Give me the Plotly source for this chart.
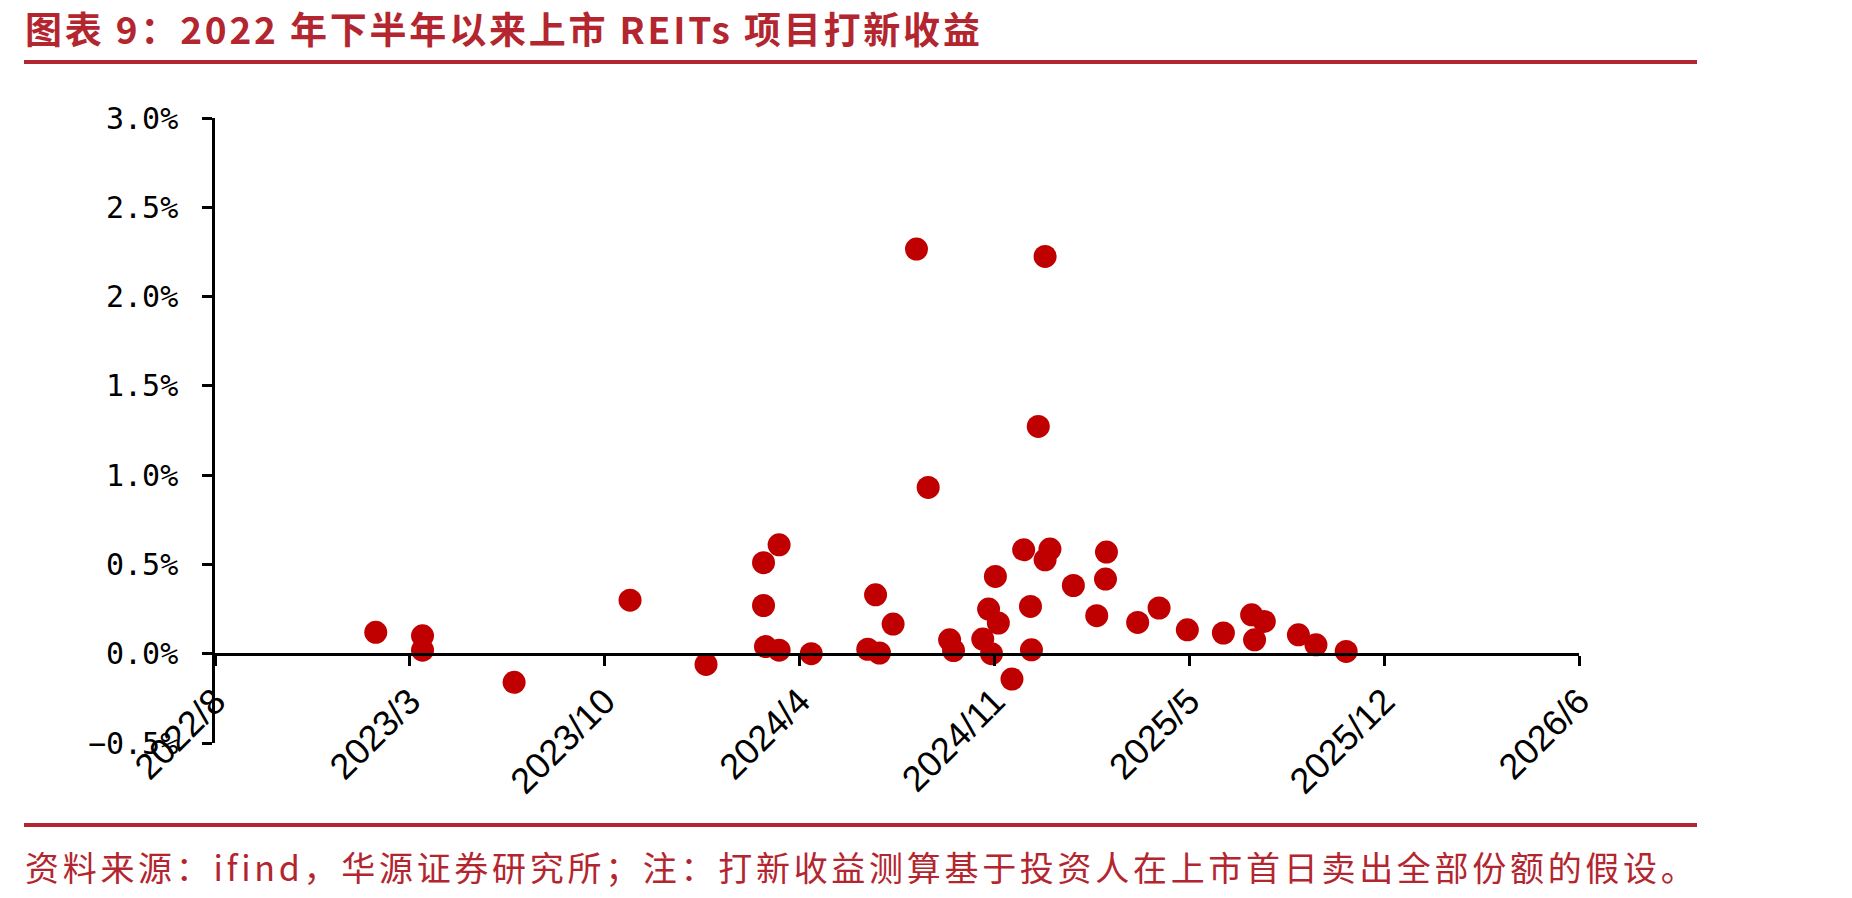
import plotly.graph_objects as go

W, H = 1852, 898

# ---- data (listing date, first-day subscription return in %) ----
list_dates = [
    "2023-02-11", "2023-03-31", "2023-03-31", "2023-07-03", "2023-10-30",
    "2024-01-16", "2024-03-15", "2024-03-31", "2024-03-15", "2024-03-17",
    "2024-03-31", "2024-05-03", "2024-06-30", "2024-07-12", "2024-07-08",
    "2024-07-26", "2024-08-19", "2024-08-31", "2024-09-22", "2024-09-26",
    "2024-10-26", "2024-11-01", "2024-11-04", "2024-11-08", "2024-11-11",
    "2024-11-25", "2024-12-07", "2024-12-14", "2024-12-15", "2024-12-22",
    "2024-12-29", "2024-12-29", "2025-01-03", "2025-01-27", "2025-02-20",
    "2025-03-02", "2025-03-01", "2025-04-03", "2025-04-25", "2025-05-24",
    "2025-06-30", "2025-07-29", "2025-08-11", "2025-08-01", "2025-09-15",
    "2025-10-03", "2025-11-03",
]
ret_pct = [
    0.12, 0.10, 0.02, -0.16, 0.30,
    -0.06, 0.51, 0.61, 0.27, 0.04,
    0.02, 0.00, 0.025, 0.004, 0.33,
    0.166, 2.266, 0.931, 0.078, 0.018,
    0.082, 0.25, 0.00, 0.433, 0.172,
    -0.142, 0.582, 0.265, 0.022, 1.273,
    2.225, 0.526, 0.586, 0.382, 0.213,
    0.569, 0.418, 0.175, 0.256, 0.134,
    0.116, 0.218, 0.181, 0.078, 0.106,
    0.050, 0.013,
]

x_start = "2022-08-30"
x_end = "2026-06-30"
x_step_days = 200
y_min, y_max, y_step = -0.005, 0.03, 0.005

title_text = "图表 9：2022 年下半年以来上市 REITs 项目打新收益"
source_text = "资料来源：ifind，华源证券研究所；注：打新收益测算基于投资人在上市首日卖出全部份额的假设。"

RED = "#C00000"
BRAND = "#B3262F"


def fx(px):
    return px / W


def fy(py):
    return 1 - py / H


fig = go.Figure(
    go.Scatter(
        x=list_dates,
        y=[v / 100 for v in ret_pct],
        mode="markers",
        marker=dict(size=23, color=RED, line=dict(width=0)),
        hoverinfo="skip",
    )
)

fig.update_layout(
    width=W,
    height=H,
    margin=dict(l=0, r=0, t=0, b=0),
    paper_bgcolor="white",
    plot_bgcolor="white",
    showlegend=False,
    xaxis=dict(
        type="date",
        domain=[fx(215), fx(1579)],
        range=[x_start, x_end],
        anchor="free",
        position=fy(654),
        tick0=x_start,
        dtick=x_step_days * 86400000,
        tickformat="%Y/%-m",
        tickangle=-45,
        showline=True,
        linecolor="black",
        linewidth=2.5,
        ticks="outside",
        ticklen=10,
        tickwidth=2.5,
        tickcolor="black",
        showgrid=False,
        zeroline=False,
        automargin=False,
        ticklabelstandoff=0,
        tickfont=dict(family="Liberation Sans", size=36, color="black"),
    ),
    yaxis=dict(
        domain=[fy(743), fy(118)],
        range=[y_min, y_max],
        tick0=0,
        dtick=y_step,
        tickformat=".1%",
        showline=True,
        linecolor="black",
        linewidth=2.5,
        ticks="outside",
        ticklen=10,
        tickwidth=2.5,
        tickcolor="black",
        showgrid=False,
        zeroline=False,
        automargin=False,
        ticklabelstandoff=18,
        tickfont=dict(family="DejaVu Sans Mono", size=30, color="black"),
    ),
    shapes=[
        dict(type="line", xref="paper", yref="paper", x0=fx(24), x1=fx(1697),
             y0=fy(62), y1=fy(62), line=dict(color=BRAND, width=4)),
        dict(type="line", xref="paper", yref="paper", x0=fx(24), x1=fx(1697),
             y0=fy(825), y1=fy(825), line=dict(color=BRAND, width=4)),
    ],
    annotations=[
        dict(
            text="<b><span style='letter-spacing:2.8px'>" + title_text + "</span></b>",
            xref="paper", yref="paper", x=fx(24), y=fy(28),
            xanchor="left", yanchor="middle", showarrow=False, borderpad=0,
            font=dict(family="Noto Sans CJK SC", size=37, color=BRAND),
        ),
        dict(
            text="<span style='letter-spacing:3.7px'>" + source_text + "</span>",
            xref="paper", yref="paper", x=fx(24), y=fy(866),
            xanchor="left", yanchor="middle", showarrow=False, borderpad=0,
            font=dict(family="Noto Sans CJK SC", size=34, color=BRAND),
        ),
    ],
)

fig.write_html("out.html")
